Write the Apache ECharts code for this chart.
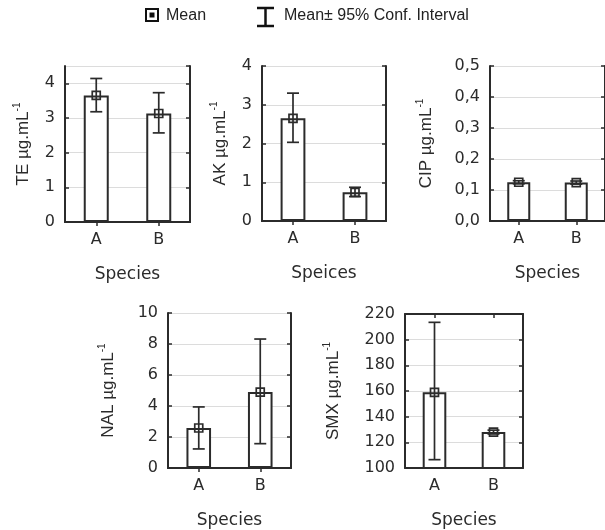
<!DOCTYPE html>
<html>
<head>
<meta charset="utf-8">
<script src="https://cdn.jsdelivr.net/npm/echarts@6/dist/echarts.min.js"></script>
<style>
html,body{margin:0;padding:0;background:#fff;}
#chart{width:605px;height:530px;}
</style>
</head>
<body>
<div id="chart"></div>
<script>
// ---- data ----
const categories = ['A', 'B'];

const teMean = [3.65, 3.13];
const teLow  = [3.18, 2.57];
const teHigh = [4.14, 3.73];

const akMean = [2.65, 0.74];
const akLow  = [2.03, 0.63];
const akHigh = [3.30, 0.87];

const cipMean = [0.125, 0.124];
const cipLow  = [0.120, 0.119];
const cipHigh = [0.130, 0.129];

const nalMean = [2.58, 4.90];
const nalLow  = [1.23, 1.57];
const nalHigh = [3.94, 8.32];

const smxMean = [159, 128];
const smxLow  = [106.5, 126.5];
const smxHigh = [213.5, 129.5];

const teTicks  = [0, 1, 2, 3, 4];
const akTicks  = [0, 1, 2, 3, 4];
const cipTicks = ['0,0', '0,1', '0,2', '0,3', '0,4', '0,5'];
const nalTicks = [0, 2, 4, 6, 8, 10];
const smxTicks = [100, 120, 140, 160, 180, 200, 220];

const yNames = ['TE µg.mL', 'AK µg.mL', 'CIP µg.mL', 'NAL µg.mL', 'SMX µg.mL'];
const xNames = ['Species', 'Speices', 'Species', 'Species', 'Species'];

// ---- layout ----
const panels = [
  {mean: teMean,  low: teLow,  high: teHigh,  min: 0,   max: 4.5, interval: 1,   dec: 0, grid: {left: 65,  top: 66,  width: 125, height: 156}, nameGap: 33},
  {mean: akMean,  low: akLow,  high: akHigh,  min: 0,   max: 4,   interval: 1,   dec: 0, grid: {left: 262, top: 66,  width: 124, height: 155}, nameGap: 33},
  {mean: cipMean, low: cipLow, high: cipHigh, min: 0,   max: 0.5, interval: 0.1, dec: 1, grid: {left: 490, top: 66,  width: 122, height: 155}, nameGap: 55},
  {mean: nalMean, low: nalLow, high: nalHigh, min: 0,   max: 10,  interval: 2,   dec: 0, grid: {left: 168, top: 313, width: 123, height: 155}, nameGap: 51},
  {mean: smxMean, low: smxLow, high: smxHigh, min: 100, max: 220, interval: 20,  dec: 0, grid: {left: 405, top: 314, width: 118, height: 154}, nameGap: 63}
];

const INK = '#2b2b2b';
const FONT = '"Liberation Sans", Arial, sans-serif';
const WIDE = '"DejaVu Sans", sans-serif';

const grids = [], xAxes = [], yAxes = [], series = [];

panels.forEach((p, i) => {
  grids.push(Object.assign({containLabel: false}, p.grid));
  const ticks = Math.round((p.max - p.min) / p.interval * 1e6) / 1e6;
  const maxOnTick = Math.abs(ticks - Math.round(ticks)) < 1e-9;
  // bottom x axis
  xAxes.push({
    type: 'category', gridIndex: i, data: categories, position: 'bottom',
    name: xNames[i], nameLocation: 'middle', nameGap: 44,
    nameTextStyle: {fontSize: 17, color: INK, fontFamily: WIDE},
    axisLine: {show: true, lineStyle: {color: INK, width: 2}},
    axisTick: {show: true, inside: true, alignWithLabel: true, length: 4, lineStyle: {color: INK, width: 1.5}},
    axisLabel: {fontSize: 16, color: INK, fontFamily: WIDE, margin: 10},
    splitLine: {show: false}
  });
  // top x axis (frame + ticks)
  xAxes.push({
    type: 'category', gridIndex: i, data: categories, position: 'top',
    axisLine: {show: true, lineStyle: {color: INK, width: 2}},
    axisTick: {show: true, inside: true, alignWithLabel: true, length: 4, lineStyle: {color: INK, width: 1.5}},
    axisLabel: {show: false}, splitLine: {show: false}
  });
  // left y axis
  yAxes.push({
    type: 'value', gridIndex: i, position: 'left',
    min: p.min, max: p.max, interval: p.interval,
    name: '{m|' + yNames[i] + '}{s|-1}', nameLocation: 'middle', nameRotate: 90, nameGap: p.nameGap,
    nameTextStyle: {
      color: INK, fontFamily: FONT,
      rich: {
        m: {fontSize: 17, color: INK, fontFamily: FONT, lineHeight: 20, verticalAlign: 'bottom'},
        s: {fontSize: 10, color: INK, fontFamily: FONT, lineHeight: 20, verticalAlign: 'top'}
      }
    },
    axisLine: {show: true, lineStyle: {color: INK, width: 2}},
    axisTick: {show: true, inside: true, length: 4, lineStyle: {color: INK, width: 1.5}},
    axisLabel: {
      fontSize: 16, color: INK, fontFamily: WIDE, margin: 10, showMaxLabel: maxOnTick,
      formatter: v => p.dec ? v.toFixed(p.dec).replace('.', ',') : String(v)
    },
    splitLine: {show: true, lineStyle: {color: '#dcdcdc', width: 1}}
  });
  // right y axis (frame + ticks)
  yAxes.push({
    type: 'value', gridIndex: i, position: 'right',
    min: p.min, max: p.max, interval: p.interval,
    axisLine: {show: true, lineStyle: {color: INK, width: 2}},
    axisTick: {show: true, inside: true, length: 4, lineStyle: {color: INK, width: 1.5}},
    axisLabel: {show: false}, splitLine: {show: false}
  });

  series.push({
    type: 'bar', xAxisIndex: 2 * i, yAxisIndex: 2 * i,
    data: p.mean, barWidth: '40%', clip: true,
    itemStyle: {color: '#fff', borderColor: INK, borderWidth: 2},
    silent: true, z: 2
  });
  series.push({
    type: 'custom', xAxisIndex: 2 * i, yAxisIndex: 2 * i,
    data: categories.map((c, k) => [k, p.low[k], p.high[k]]),
    renderItem: (params, api) => {
      const x = api.value(0);
      const lo = api.coord([x, api.value(1)]);
      const hi = api.coord([x, api.value(2)]);
      const hw = 6;
      const st = {stroke: INK, lineWidth: 1.7, fill: null};
      return {
        type: 'group',
        children: [
          {type: 'line', shape: {x1: hi[0], y1: hi[1], x2: lo[0], y2: lo[1]}, style: st},
          {type: 'line', shape: {x1: hi[0] - hw, y1: hi[1], x2: hi[0] + hw, y2: hi[1]}, style: st},
          {type: 'line', shape: {x1: lo[0] - hw, y1: lo[1], x2: lo[0] + hw, y2: lo[1]}, style: st}
        ]
      };
    },
    z: 3, silent: true
  });
  series.push({
    type: 'scatter', xAxisIndex: 2 * i, yAxisIndex: 2 * i,
    data: p.mean, symbol: 'rect', symbolSize: 8,
    itemStyle: {color: 'rgba(255,255,255,0)', borderColor: INK, borderWidth: 1.7, opacity: 1},
    z: 4, silent: true
  });
});

const chart = echarts.init(document.getElementById('chart'), null, {renderer: 'canvas'});
chart.setOption({
  animation: false,
  backgroundColor: '#fff',
  grid: grids,
  xAxis: xAxes,
  yAxis: yAxes,
  series: series,
  graphic: [
    {type: 'rect', shape: {x: 146, y: 9, width: 12, height: 12}, style: {fill: '#fff', stroke: '#111', lineWidth: 2}},
    {type: 'rect', shape: {x: 149.5, y: 12.5, width: 5, height: 5}, style: {fill: '#111'}},
    {type: 'text', x: 166, y: 16, style: {text: 'Mean', fontSize: 16, fill: '#222', fontFamily: FONT, verticalAlign: 'middle'}},
    {type: 'polyline', shape: {points: [[257, 8], [274, 8]]}, style: {stroke: '#111', lineWidth: 2.5}},
    {type: 'polyline', shape: {points: [[265.5, 8], [265.5, 26]]}, style: {stroke: '#111', lineWidth: 2.5}},
    {type: 'polyline', shape: {points: [[257, 26], [274, 26]]}, style: {stroke: '#111', lineWidth: 2.5}},
    {type: 'text', x: 284, y: 16, style: {text: 'Mean± 95% Conf. Interval', fontSize: 16, fill: '#222', fontFamily: FONT, verticalAlign: 'middle'}}
  ]
});
</script>
</body>
</html>
